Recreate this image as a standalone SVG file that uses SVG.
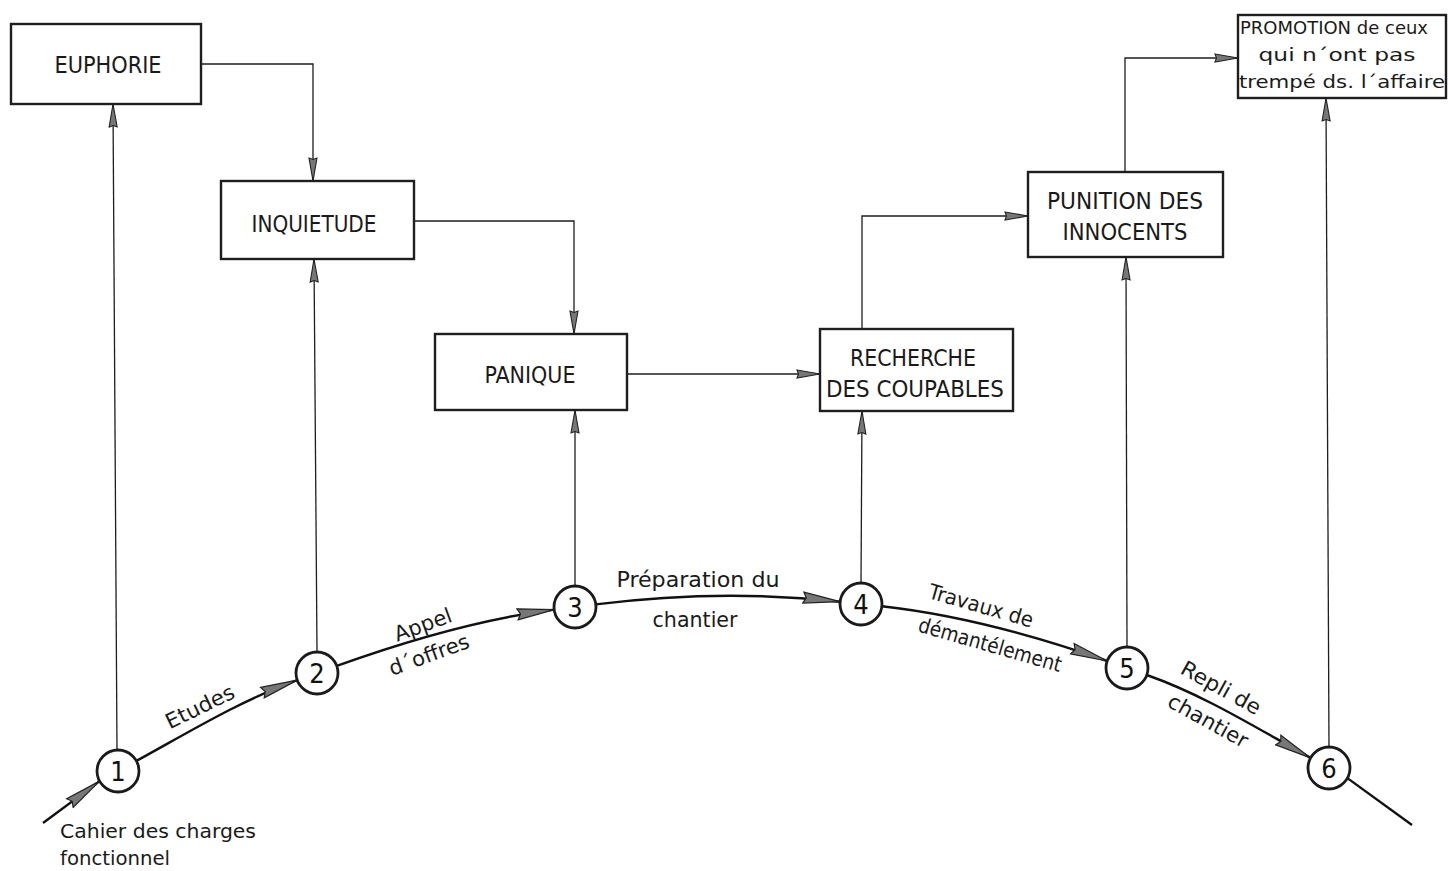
<svg xmlns="http://www.w3.org/2000/svg" width="1448" height="871" viewBox="0 0 1448 871">
<style>
  .box{fill:#fff;stroke:#1e1e1e;stroke-width:2.4}
  .lbl{font-family:'DejaVu Sans Condensed','DejaVu Sans',sans-serif;font-stretch:condensed;fill:#1a1a1a;text-anchor:middle}
  .bt{font-size:23px}
  .at{font-size:21px}
  .wire{fill:none;stroke:#1e1e1e;stroke-width:1.3}
  .arc{fill:none;stroke:#111;stroke-width:2.4}
  .node{fill:#fff;stroke:#1a1a1a;stroke-width:2.8}
  .num{font-family:'DejaVu Sans Condensed','DejaVu Sans',sans-serif;font-size:27px;fill:#111;text-anchor:middle}
</style>
<defs>
  <marker id="ah" viewBox="0 0 24 10" refX="24" refY="5" markerWidth="24" markerHeight="10" markerUnits="userSpaceOnUse" orient="auto">
    <path d="M1,1 L24,5 L1,9 L2.5,5 Z" fill="#777" stroke="#222" stroke-width="1.1"/>
  </marker>
  <marker id="ahL" viewBox="0 0 38 14" refX="38" refY="7" markerWidth="38" markerHeight="14" markerUnits="userSpaceOnUse" orient="auto">
    <path d="M1,1.5 L38,7 L1,12.5 L4,7 Z" fill="#777" stroke="#222" stroke-width="1.2"/>
  </marker>
</defs>
<rect width="1448" height="871" fill="#fff"/>

<g id="connectors">
  <!-- box to box -->
  <path class="wire" d="M201,64 H313 V181" marker-end="url(#ah)"/>
  <path class="wire" d="M414,221 H574 V334" marker-end="url(#ah)"/>
  <path class="wire" d="M627,374 H820" marker-end="url(#ah)"/>
  <path class="wire" d="M862,329 V216 H1028" marker-end="url(#ah)"/>
  <path class="wire" d="M1125,172 V58 H1238" marker-end="url(#ah)"/>
  <!-- circle to box -->
  <path class="wire" d="M117,749 L113,104" marker-end="url(#ah)"/>
  <path class="wire" d="M317,651 L314,259" marker-end="url(#ah)"/>
  <path class="wire" d="M575,586 L575,410" marker-end="url(#ah)"/>
  <path class="wire" d="M861,583 L862,411" marker-end="url(#ah)"/>
  <path class="wire" d="M1127,647 L1126,257" marker-end="url(#ah)"/>
  <path class="wire" d="M1329,747 L1326,98" marker-end="url(#ah)"/>
  <!-- process arc -->
  <path class="arc" d="M43,823 L99.6,781.1" marker-end="url(#ahL)"/>
  <path class="arc" d="M136.4,760.9 C189,732.1 240.7,700.4 297.2,680.1" marker-end="url(#ahL)"/>
  <path class="arc" d="M336.8,665.9 C407.4,640.5 479.8,619.1 554.2,609.6" marker-end="url(#ahL)"/>
  <path class="arc" d="M595.8,604.4 C676.2,594.2 759.6,592.8 840.1,601.7" marker-end="url(#ahL)"/>
  <path class="arc" d="M881.9,606.3 C958.4,614.8 1034.5,635.5 1107.2,661" marker-end="url(#ahL)"/>
  <path class="arc" d="M1146.8,675 C1204.4,695.2 1257.2,728.5 1310.6,757.9" marker-end="url(#ahL)"/>
  <path class="arc" d="M1347.4,778.1 L1412,825"/>
  <!-- arc labels -->
  <text class="lbl at" transform="translate(200,707) rotate(-26)" y="7" textLength="74" lengthAdjust="spacingAndGlyphs">Etudes</text>
  <text class="lbl at" transform="translate(423,625) rotate(-20)" y="7" textLength="60" lengthAdjust="spacingAndGlyphs">Appel</text>
  <text class="lbl at" transform="translate(429,655) rotate(-20)" y="7" textLength="84" lengthAdjust="spacingAndGlyphs">d´offres</text>
  <text class="lbl at" x="698" y="587" textLength="163" lengthAdjust="spacingAndGlyphs">Préparation du</text>
  <text class="lbl at" x="695" y="627" textLength="85" lengthAdjust="spacingAndGlyphs">chantier</text>
  <text class="lbl at" transform="translate(981,606) rotate(16)" y="7" textLength="108" lengthAdjust="spacingAndGlyphs">Travaux de</text>
  <text class="lbl at" transform="translate(990,645) rotate(16)" y="7" textLength="148" lengthAdjust="spacingAndGlyphs">démantélement</text>
  <text class="lbl at" transform="translate(1221,688) rotate(29)" y="7" textLength="88" lengthAdjust="spacingAndGlyphs">Repli de</text>
  <text class="lbl at" transform="translate(1208,721) rotate(29)" y="7" textLength="88" lengthAdjust="spacingAndGlyphs">chantier</text>
  <text class="lbl" x="60" y="838" font-size="20" style="text-anchor:start" textLength="196" lengthAdjust="spacingAndGlyphs">Cahier des charges</text>
  <text class="lbl" x="60" y="865" font-size="20" style="text-anchor:start" textLength="110" lengthAdjust="spacingAndGlyphs">fonctionnel</text>
</g>

<g id="euphorie">
  <rect class="box" x="11" y="24" width="190" height="80"/>
  <text class="lbl bt" x="108" y="73" textLength="107" lengthAdjust="spacingAndGlyphs">EUPHORIE</text>
</g>
<g id="inquietude">
  <rect class="box" x="221" y="181" width="193" height="78"/>
  <text class="lbl bt" x="314" y="232" textLength="125" lengthAdjust="spacingAndGlyphs">INQUIETUDE</text>
</g>
<g id="panique">
  <rect class="box" x="435" y="334" width="192" height="76"/>
  <text class="lbl bt" x="530" y="383" textLength="91" lengthAdjust="spacingAndGlyphs">PANIQUE</text>
</g>
<g id="recherche">
  <rect class="box" x="820" y="329" width="193" height="82"/>
  <text class="lbl bt" x="913" y="366" textLength="126" lengthAdjust="spacingAndGlyphs">RECHERCHE</text>
  <text class="lbl bt" x="915" y="397" textLength="178" lengthAdjust="spacingAndGlyphs">DES COUPABLES</text>
</g>
<g id="punition">
  <rect class="box" x="1028" y="172" width="195" height="85"/>
  <text class="lbl bt" x="1125" y="209" textLength="156" lengthAdjust="spacingAndGlyphs">PUNITION DES</text>
  <text class="lbl bt" x="1125" y="240" textLength="125" lengthAdjust="spacingAndGlyphs">INNOCENTS</text>
</g>
<g id="promotion">
  <rect class="box" x="1238" y="15" width="208" height="83"/>
  <text class="lbl" x="1334" y="34" font-size="18" textLength="188" lengthAdjust="spacingAndGlyphs">PROMOTION de ceux</text>
  <text class="lbl" x="1337" y="61" font-size="18" textLength="157" lengthAdjust="spacingAndGlyphs">qui n´ont pas</text>
  <text class="lbl" x="1342" y="88" font-size="18" textLength="206" lengthAdjust="spacingAndGlyphs">trempé ds. l´affaire</text>
</g>

<g id="step1"><circle class="node" cx="118" cy="771" r="21"/><text class="num" x="118" y="781">1</text></g>
<g id="step2"><circle class="node" cx="317" cy="673" r="21"/><text class="num" x="317" y="683">2</text></g>
<g id="step3"><circle class="node" cx="575" cy="607" r="21"/><text class="num" x="575" y="617">3</text></g>
<g id="step4"><circle class="node" cx="861" cy="604" r="21"/><text class="num" x="861" y="614">4</text></g>
<g id="step5"><circle class="node" cx="1127" cy="668" r="21"/><text class="num" x="1127" y="678">5</text></g>
<g id="step6"><circle class="node" cx="1329" cy="768" r="21"/><text class="num" x="1329" y="778">6</text></g>
</svg>
